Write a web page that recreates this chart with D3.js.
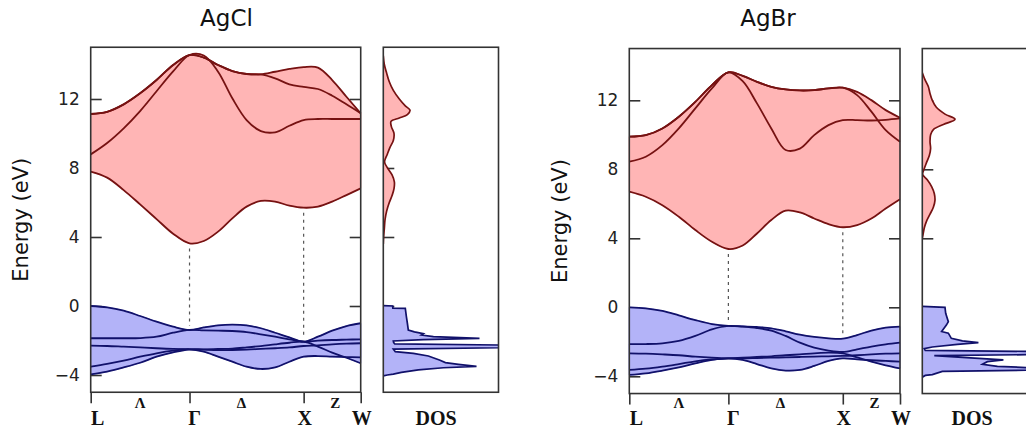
<!DOCTYPE html>
<html>
<head>
<meta charset="utf-8">
<script src="https://cdn.jsdelivr.net/npm/d3@7"></script>
<style>
  body { margin: 0; background: #fff; }
  svg { display: block; }
</style>
</head>
<body>
<svg id="canvas" width="1026" height="429"></svg>
<script>
// k path L - Γ - X - W (path length, FCC units)
let kGrid = [0, 0.144, 0.289, 0.433, 0.577, 0.722, 0.866, 0.991, 1.116, 1.241, 1.366, 1.491, 1.616, 1.741, 1.866, 1.991, 2.116, 2.241, 2.366]
let kTicks = [0, 0.866, 1.866, 2.366]
let kTickLabels = ['L', 'Γ', 'X', 'W']
let kMidTicks = [0.433, 1.322, 2.144]
let kMidLabels = ['Λ', 'Δ', 'Z']
let energyTicks = [-4, 0, 4, 8, 12]

// AgCl bands (eV), one row per band, values at kGrid
let agclCond = [
  [7.79, 7.44, 6.72, 5.89, 5.04, 4.19, 3.63, 3.77, 4.31, 5.08, 5.76, 6.09, 6.05, 5.82, 5.70, 5.76, 6.05, 6.43, 6.82],
  [8.79, 9.45, 10.30, 11.30, 12.45, 13.60, 14.55, 14.52, 13.58, 12.04, 10.78, 10.14, 10.07, 10.45, 10.78, 10.84, 10.84, 10.84, 10.84],
  [11.13, 11.26, 11.69, 12.33, 13.10, 13.97, 14.55, 14.40, 13.97, 13.62, 13.45, 13.43, 13.58, 13.74, 13.85, 13.82, 13.10, 12.13, 11.17],
  [11.13, 11.26, 11.69, 12.33, 13.10, 13.97, 14.55, 14.40, 13.97, 13.62, 13.45, 13.43, 13.20, 12.85, 12.70, 12.58, 12.19, 11.69, 11.17]
]
let agclVal = [
  [0.00, -0.08, -0.27, -0.58, -0.91, -1.20, -1.39, -1.24, -1.12, -1.08, -1.12, -1.29, -1.55, -1.82, -2.07, -1.78, -1.43, -1.16, -1.00],
  [-1.87, -1.87, -1.87, -1.86, -1.78, -1.55, -1.39, -1.41, -1.43, -1.45, -1.51, -1.64, -1.78, -1.93, -2.07, -2.01, -1.97, -1.95, -1.93],
  [-2.30, -2.32, -2.36, -2.40, -2.45, -2.49, -2.51, -2.53, -2.55, -2.55, -2.53, -2.49, -2.45, -2.40, -2.32, -2.28, -2.22, -2.18, -2.16],
  [-3.52, -3.36, -3.17, -2.94, -2.74, -2.59, -2.51, -2.65, -2.94, -3.23, -3.52, -3.65, -3.56, -3.23, -2.94, -2.90, -2.94, -2.96, -2.98],
  [-3.96, -3.80, -3.56, -3.29, -2.94, -2.69, -2.51, -2.51, -2.49, -2.47, -2.40, -2.32, -2.22, -2.13, -2.07, -2.35, -2.70, -3.00, -3.32]
]

// AgBr bands (eV)
let agbrCond = [
  [6.70, 6.41, 5.92, 5.25, 4.48, 3.80, 3.38, 3.58, 4.28, 5.06, 5.60, 5.50, 5.15, 4.82, 4.64, 4.77, 5.15, 5.73, 6.27],
  [8.44, 8.73, 9.40, 10.37, 11.53, 12.69, 13.62, 13.11, 11.82, 10.37, 9.12, 9.20, 9.98, 10.56, 10.85, 10.85, 10.83, 10.87, 10.95],
  [9.89, 9.98, 10.37, 11.05, 11.91, 12.88, 13.62, 13.42, 13.07, 12.78, 12.63, 12.57, 12.59, 12.69, 12.73, 12.49, 12.01, 11.43, 10.99],
  [9.89, 9.98, 10.37, 11.05, 11.91, 12.88, 13.62, 13.42, 13.07, 12.78, 12.63, 12.57, 12.59, 12.69, 12.73, 12.30, 11.34, 10.27, 9.60]
]
let agbrVal = [
  [0.00, -0.06, -0.21, -0.47, -0.74, -0.97, -1.08, -1.10, -1.14, -1.22, -1.39, -1.59, -1.72, -1.80, -1.82, -1.61, -1.35, -1.18, -1.12],
  [-2.13, -2.13, -2.09, -1.95, -1.66, -1.28, -1.08, -1.12, -1.20, -1.35, -1.66, -2.05, -2.34, -2.51, -2.59, -2.44, -2.28, -2.15, -2.05],
  [-2.67, -2.69, -2.73, -2.78, -2.86, -2.92, -2.96, -2.96, -2.94, -2.92, -2.90, -2.88, -2.86, -2.84, -2.82, -2.78, -2.73, -2.69, -2.67],
  [-3.92, -3.83, -3.67, -3.48, -3.25, -3.05, -2.96, -3.05, -3.29, -3.54, -3.67, -3.63, -3.40, -3.11, -2.96, -3.02, -3.07, -3.11, -3.15],
  [-3.63, -3.56, -3.44, -3.29, -3.13, -3.02, -2.96, -2.92, -2.88, -2.84, -2.78, -2.73, -2.67, -2.63, -2.67, -2.90, -3.15, -3.36, -3.54]
]

// DOS as [energy eV, DOS arb. units 0-10]
let agclDosCond = [[14.5, 0], [14.0, 0.09], [13.5, 0.29], [13.0, 0.52], [12.5, 0.87], [12.0, 1.39], [11.6, 1.91], [11.35, 2.32], [11.1, 2.09], [10.9, 1.39], [10.7, 0.67], [10.4, 0.70], [10.0, 0.93], [9.6, 0.87], [9.2, 0.58], [8.8, 0.35], [8.35, 0.11], [8.0, 0.37], [7.6, 0.76], [7.2, 0.96], [6.8, 0.93], [6.4, 0.76], [6.0, 0.52], [5.5, 0.29], [5.0, 0.15], [4.5, 0.09], [4.0, 0.03], [3.6, 0]]
let agclDosVal = [[0.02, 0], [0.0, 0.81], [-0.12, 0.83], [-0.14, 1.91], [-0.6, 2.0], [-1.0, 2.09], [-1.39, 2.17], [-1.5, 2.70], [-1.6, 3.48], [-1.68, 3.30], [-1.78, 4.35], [-1.88, 8.35], [-1.95, 3.48], [-2.03, 0.87], [-2.12, 0.9], [-2.2, 1.0], [-2.26, 10.1], [-2.42, 10.1], [-2.5, 0.87], [-2.65, 1.04], [-2.75, 2.61], [-2.9, 3.91], [-3.13, 4.87], [-3.28, 5.39], [-3.38, 6.52], [-3.5, 8.09], [-3.58, 5.22], [-3.7, 3.04], [-3.85, 1.57], [-3.95, 0.87], [-4.0, 0.35], [-4.05, 0]]
let agbrDosCond = [[13.6, 0], [13.2, 0.23], [12.8, 0.52], [12.4, 0.67], [12.0, 0.87], [11.6, 1.22], [11.2, 1.97], [10.9, 2.84], [10.6, 1.83], [10.3, 0.96], [10.0, 0.72], [9.6, 0.67], [9.2, 0.72], [8.8, 0.61], [8.4, 0.37], [8.0, 0.15], [7.7, 0.03], [7.4, 0.43], [7.0, 0.81], [6.6, 1.04], [6.2, 1.10], [5.8, 0.96], [5.4, 0.67], [5.0, 0.37], [4.6, 0.17], [4.2, 0.06], [4.0, 0]]
let agbrDosVal = [[0.05, 0], [0.0, 1.97], [-0.35, 2.03], [-0.83, 2.26], [-1.03, 2.09], [-1.4, 1.68], [-1.5, 2.26], [-1.8, 2.52], [-1.95, 3.48], [-2.05, 4.87], [-2.15, 3.04], [-2.3, 0.87], [-2.4, 0.17], [-2.5, 0.26], [-2.56, 10], [-2.74, 10], [-2.8, 1.04], [-2.9, 3.48], [-3.05, 7.04], [-3.15, 5.65], [-3.3, 5.22], [-3.42, 6.52], [-3.52, 10], [-3.64, 10], [-3.72, 1.74], [-3.9, 0.87], [-3.95, 0.26], [-4.05, 0]]

let canvas = d3.select('#canvas')

let panels = [
  { name: 'AgCl', cond: agclCond, val: agclVal, dosCond: agclDosCond, dosVal: agclDosVal,
    left: 90.7, right: 360.7, dosLeft: 383.3, dosRight: 498.5, zeroY: 306, titleX: 226.5, ylabelX: 28, dosLabelX: 436 },
  { name: 'AgBr', cond: agbrCond, val: agbrVal, dosCond: agbrDosCond, dosVal: agbrDosVal,
    left: 629.3, right: 900, dosLeft: 922.3, dosRight: 1037.5, zeroY: 307.3, titleX: 768, ylabelX: 567, dosLabelX: 972 }
]

let red = { fill: '#ffb5b5', line: '#761212' }
let blue = { fill: '#b3b3f8', line: '#11116a' }
let frameColor = '#333'
let bandCurve = d3.curveCatmullRom.alpha(0.5)

let drawPanel = (p, pi) => {
  let x = d3.scaleLinear().domain([0, 2.366]).range([p.left, p.right])
  let y = d3.scaleLinear().domain([-5, 15]).range([p.zeroY + 5 * 17.25, p.zeroY - 15 * 17.25])
  let dx = d3.scaleLinear().domain([0, 10]).range([p.dosLeft, p.dosRight])
  let top = y(15), bottom = y(-5)

  let g = canvas.append('g')

  // clip for DOS
  g.append('clipPath').attr('id', 'dosclip' + pi)
    .append('rect').attr('x', p.dosLeft).attr('y', top)
    .attr('width', p.dosRight - p.dosLeft).attr('height', bottom - top)

  // inward ticks (drawn under fills)
  let leftAxis = d3.axisLeft(y).tickValues(energyTicks).tickSize(-11).tickPadding(11)
  let ga = g.append('g').attr('transform', 'translate(' + p.left + ',0)').call(leftAxis)
  ga.select('.domain').remove()
  ga.selectAll('line').attr('stroke', frameColor).attr('stroke-width', 1.6)
  ga.selectAll('text').attr('font-family', 'DejaVu Sans').attr('font-size', 17).attr('fill', '#222')

  let rightAxis = d3.axisRight(y).tickValues([0, 4, 8, 12]).tickSize(-11).tickFormat('')
  let gr = g.append('g').attr('transform', 'translate(' + p.right + ',0)').call(rightAxis)
  gr.select('.domain').remove()
  gr.selectAll('line').attr('stroke', frameColor).attr('stroke-width', 1.6)

  let dosAxis = d3.axisLeft(y).tickValues([0, 4, 8, 12]).tickSize(-11).tickFormat('')
  let gd = g.append('g').attr('transform', 'translate(' + p.dosLeft + ',0)').call(dosAxis)
  gd.select('.domain').remove()
  gd.selectAll('line').attr('stroke', frameColor).attr('stroke-width', 1.6)

  // band fills: union of areas between every pair of bands
  let pairArea = d3.area()
    .x((d, i) => x(kGrid[i]))
    .y0(d => y(d[0]))
    .y1(d => y(d[1]))
    .curve(bandCurve)
  let bandLine = d3.line()
    .x((d, i) => x(kGrid[i]))
    .y(d => y(d))
    .curve(bandCurve)

  let drawBands = (bands, col) => {
    let pairs = []
    bands.forEach((a, i) => {
      bands.forEach((b, j) => {
        if (j > i) pairs.push(kGrid.map((k, n) => [a[n], b[n]]))
      })
    })
    g.append('g').selectAll('path').data(pairs).enter().append('path')
      .attr('d', pairArea).attr('fill', col.fill).attr('stroke', col.fill).attr('stroke-width', 0.6)
    g.append('g').selectAll('path').data(bands).enter().append('path')
      .attr('d', bandLine).attr('fill', 'none').attr('stroke', col.line).attr('stroke-width', 1.8)
  }
  drawBands(p.cond, red)
  drawBands(p.val, blue)

  // dotted lines at Γ and X between the band edges
  ;[6, 14].forEach(idx => {
    let cMin = d3.min(p.cond, b => b[idx])
    let vMax = d3.max(p.val, b => b[idx])
    g.append('line')
      .attr('x1', x(kGrid[idx])).attr('x2', x(kGrid[idx]))
      .attr('y1', y(cMin) + 5).attr('y2', y(vMax) - 4)
      .attr('stroke', '#555').attr('stroke-width', 1.2).attr('stroke-dasharray', '3,4')
  })

  // DOS
  let dosG = g.append('g').attr('clip-path', 'url(#dosclip' + pi + ')')
  let drawDos = (data, col, curve) => {
    let ar = d3.area().y(d => y(d[0])).x0(dx(0)).x1(d => dx(d[1])).curve(curve)
    let ln = d3.line().y(d => y(d[0])).x(d => dx(d[1])).curve(curve)
    dosG.append('path').datum(data).attr('d', ar).attr('fill', col.fill)
    dosG.append('path').datum(data).attr('d', ln).attr('fill', 'none').attr('stroke', col.line).attr('stroke-width', 1.7)
  }
  drawDos(p.dosCond, red, d3.curveCatmullRom)
  drawDos(p.dosVal, blue, d3.curveLinear)

  // frames
  g.append('rect').attr('x', p.left).attr('y', top).attr('width', p.right - p.left).attr('height', bottom - top)
    .attr('fill', 'none').attr('stroke', frameColor).attr('stroke-width', 1.6)
  g.append('rect').attr('x', p.dosLeft).attr('y', top).attr('width', p.dosRight - p.dosLeft).attr('height', bottom - top)
    .attr('fill', 'none').attr('stroke', frameColor).attr('stroke-width', 1.6)

  // bottom k axis
  let kAxis = d3.axisBottom(x).tickValues(kTicks).tickSize(11).tickFormat('')
  let gk = g.append('g').attr('transform', 'translate(0,' + bottom + ')').call(kAxis)
  gk.select('.domain').remove()
  gk.selectAll('line').attr('stroke', frameColor).attr('stroke-width', 1.6)

  let labelShift = [7, 5, 1, 1]
  g.append('g').selectAll('text').data(kTickLabels).enter().append('text')
    .attr('x', (d, i) => x(kTicks[i]) + labelShift[i]).attr('y', 425)
    .attr('text-anchor', 'middle').attr('font-family', 'Liberation Serif').attr('font-weight', 'bold')
    .attr('font-size', 20).attr('fill', '#111').text(d => d)
  g.append('g').selectAll('text').data(kMidLabels).enter().append('text')
    .attr('x', (d, i) => x(kMidTicks[i])).attr('y', 408)
    .attr('text-anchor', 'middle').attr('font-family', 'Liberation Serif').attr('font-weight', 'bold')
    .attr('font-size', 15).attr('fill', '#111').text(d => d)
  g.append('text').attr('x', p.dosLabelX).attr('y', 425)
    .attr('text-anchor', 'middle').attr('font-family', 'Liberation Serif').attr('font-weight', 'bold')
    .attr('font-size', 20).attr('fill', '#111').text('DOS')

  // titles
  g.append('text').attr('x', p.titleX).attr('y', 26).attr('text-anchor', 'middle')
    .attr('font-family', 'DejaVu Sans').attr('font-size', 23).attr('fill', '#111').text(p.name)
  g.append('text').attr('transform', 'translate(' + p.ylabelX + ',' + y(5) + ') rotate(-90)')
    .attr('text-anchor', 'middle').attr('font-family', 'DejaVu Sans').attr('font-size', 21)
    .attr('fill', '#111').text('Energy (eV)')
}

panels.forEach(drawPanel)
</script>
</body>
</html>
